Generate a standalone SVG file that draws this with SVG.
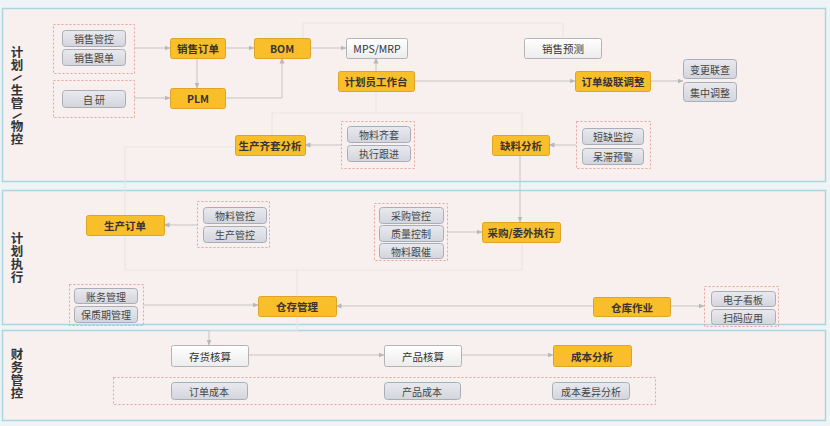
<svg xmlns="http://www.w3.org/2000/svg" width="830" height="426" viewBox="0 0 830 426">
<defs>
<linearGradient id="gg" x1="0" y1="0" x2="0" y2="1"><stop offset="0" stop-color="#e9eaef"/><stop offset="1" stop-color="#d3d5dc"/></linearGradient>
<linearGradient id="gw" x1="0" y1="0" x2="0" y2="1"><stop offset="0" stop-color="#ffffff"/><stop offset="1" stop-color="#ececec"/></linearGradient>
<marker id="ar" viewBox="0 0 6 6" refX="5.5" refY="3" markerWidth="6" markerHeight="6" orient="auto" markerUnits="userSpaceOnUse"><path d="M0,0.5 L6,3 L0,5.5 Z" fill="#b8b8b8"/></marker>
<style>
.p{fill:#f7f0ee;stroke:#a9d6e0;stroke-width:1.5}
.y{fill:#f9bf2b;stroke:#dea427;stroke-width:1}
.g{fill:url(#gg);stroke:#a9adb7;stroke-width:1}
.w{fill:url(#gw);stroke:#b4b4b4;stroke-width:1}
.d{fill:none;stroke:#e6a39b;stroke-width:1;stroke-dasharray:2 2}
.t{font-family:"Noto Sans CJK SC","Noto Sans",sans-serif;font-size:10px;fill:#454545;text-anchor:middle;dominant-baseline:central}
.ty{font-family:"Noto Sans CJK SC","Noto Sans",sans-serif;font-size:10.5px;font-weight:bold;fill:#3a3330;text-anchor:middle;dominant-baseline:central}
.tw{font-family:"Noto Sans CJK SC","Noto Sans",sans-serif;font-size:10.5px;fill:#333;text-anchor:middle;dominant-baseline:central}
.lb{font-family:"Noto Sans CJK SC","Noto Sans",sans-serif;font-size:12.5px;font-weight:bold;fill:#333;writing-mode:vertical-rl;letter-spacing:0.5px}
.sl{font-family:"Liberation Sans",sans-serif;font-size:13px;font-weight:bold;fill:#333;text-anchor:middle;dominant-baseline:central}
.c{fill:none;stroke:#c6c3c3;stroke-width:1}
.f{fill:none;stroke:#ece5e3;stroke-width:1.2}
</style>
</defs>
<rect x="0" y="0" width="830" height="426" fill="#eef4f6"/>
<g id="panels">
<rect class="p" x="2.5" y="8.5" width="823" height="173"/>
<rect class="p" x="2.5" y="190.5" width="823" height="134"/>
<rect class="p" x="2.5" y="330.5" width="823" height="90"/>
</g>
<g id="lane-labels">
<text class="lb" x="17" y="46">计划</text>
<text class="sl" transform="translate(17,78) rotate(50)">/</text>
<text class="lb" x="17" y="84">生管</text>
<text class="sl" transform="translate(17,116) rotate(50)">/</text>
<text class="lb" x="17" y="120">物控</text>
<text class="lb" x="17" y="232">计划执行</text>
<text class="lb" x="17" y="348">财务管控</text>
</g>
<g id="connectors">
<path class="f" d="M303,38 V23 H563 V38"/>
<path class="f" d="M376,91 V113 M272,135 V113 H522 V135"/>
<path class="f" d="M235,147 H125 V270 H522 V242 M297,270 V296"/>
<path class="f" d="M297,316 V331 H209"/>
<path class="c" d="M209,331 V345" marker-end="url(#ar)"/>
<path class="c" d="M520,155 V222" marker-end="url(#ar)"/>
<path class="c" d="M134,48 H170" marker-end="url(#ar)"/>
<path class="c" d="M197,58 V88" marker-end="url(#ar)"/>
<path class="c" d="M134,98 H170" marker-end="url(#ar)"/>
<path class="c" d="M225,48 H254" marker-end="url(#ar)"/>
<path class="c" d="M225,98 H282 V58" marker-end="url(#ar)"/>
<path class="c" d="M310,48 H346" marker-end="url(#ar)"/>
<path class="c" d="M376,71 V58" marker-end="url(#ar)"/>
<path class="c" d="M414,81 H575" marker-end="url(#ar)"/>
<path class="c" d="M650,81 H683" marker-end="url(#ar)"/>
<path class="c" d="M341,145 H305" marker-end="url(#ar)"/>
<path class="c" d="M576,145 H549" marker-end="url(#ar)"/>
<path class="c" d="M197,225 H164" marker-end="url(#ar)"/>
<path class="c" d="M447,232 H482" marker-end="url(#ar)"/>
<path class="c" d="M143,305 H258" marker-end="url(#ar)"/>
<path class="c" d="M593,306 H336" marker-end="url(#ar)"/>
<path class="c" d="M670,306 H704" marker-end="url(#ar)"/>
<path class="c" d="M248,355 H384" marker-end="url(#ar)"/>
<path class="c" d="M461,355 H553" marker-end="url(#ar)"/>
</g>
<g id="d1"><rect class="d" x="53.5" y="24.5" width="81" height="49"/></g>
<g id="n1"><rect class="g" x="62.5" y="30.5" width="63" height="16" rx="3"/><text class="t" x="94" y="38.5">销售管控</text></g>
<g id="n2"><rect class="g" x="62.5" y="49.5" width="63" height="16" rx="3"/><text class="t" x="94" y="57.5">销售跟单</text></g>
<g id="d2"><rect class="d" x="53.5" y="80.5" width="81" height="37"/></g>
<g id="n3"><rect class="g" x="62.5" y="90.5" width="63" height="17" rx="3"/><text class="t" x="94" y="99">自 研</text></g>
<g id="n4"><rect class="y" x="170.5" y="38.5" width="55" height="20" rx="2"/><text class="ty" x="198" y="48.5">销售订单</text></g>
<g id="n5"><rect class="y" x="170.5" y="88.5" width="55" height="20" rx="2"/><text class="ty" x="198" y="98.5">PLM</text></g>
<g id="n6"><rect class="y" x="254.5" y="38.5" width="56" height="20" rx="2"/><text class="ty" x="282" y="48.5">BOM</text></g>
<g id="n7"><rect class="w" x="346.5" y="38.5" width="61" height="20" rx="2"/><text class="tw" x="377" y="48.5">MPS/MRP</text></g>
<g id="n8"><rect class="y" x="338.5" y="71.5" width="76" height="20" rx="2"/><text class="ty" x="376" y="81.5">计划员工作台</text></g>
<g id="n9"><rect class="w" x="524.5" y="38.5" width="77" height="20" rx="2"/><text class="tw" x="563" y="48.5">销售预测</text></g>
<g id="n10"><rect class="y" x="575.5" y="71.5" width="75" height="20" rx="2"/><text class="ty" x="613" y="81.5">订单级联调整</text></g>
<g id="n11"><rect class="g" x="683.5" y="59.5" width="53" height="19" rx="3"/><text class="t" x="710" y="69">变更联查</text></g>
<g id="n12"><rect class="g" x="683.5" y="82.5" width="53" height="19" rx="3"/><text class="t" x="710" y="92">集中调整</text></g>
<g id="n13"><rect class="y" x="235.5" y="135.5" width="70" height="20" rx="2"/><text class="ty" x="270" y="145.5">生产齐套分析</text></g>
<g id="d3"><rect class="d" x="341.5" y="121.5" width="73" height="47"/></g>
<g id="n14"><rect class="g" x="347.5" y="126.5" width="63" height="16" rx="3"/><text class="t" x="379" y="134.5">物料齐套</text></g>
<g id="n15"><rect class="g" x="347.5" y="145.5" width="63" height="16" rx="3"/><text class="t" x="379" y="153.5">执行跟进</text></g>
<g id="n16"><rect class="y" x="492.5" y="135.5" width="57" height="20" rx="2"/><text class="ty" x="521" y="145.5">缺料分析</text></g>
<g id="d4"><rect class="d" x="576.5" y="121.5" width="74" height="47"/></g>
<g id="n17"><rect class="g" x="582.5" y="128.5" width="61" height="16" rx="3"/><text class="t" x="613" y="136.5">短缺监控</text></g>
<g id="n18"><rect class="g" x="582.5" y="148.5" width="61" height="16" rx="3"/><text class="t" x="613" y="156.5">呆滞预警</text></g>
<g id="n19"><rect class="y" x="86.5" y="215.5" width="78" height="20" rx="2"/><text class="ty" x="125" y="225.5">生产订单</text></g>
<g id="d5"><rect class="d" x="197.5" y="201.5" width="72" height="46"/></g>
<g id="n20"><rect class="g" x="203.5" y="207.5" width="63" height="16" rx="3"/><text class="t" x="235" y="215.5">物料管控</text></g>
<g id="n21"><rect class="g" x="203.5" y="226.5" width="63" height="16" rx="3"/><text class="t" x="235" y="234.5">生产管控</text></g>
<g id="d6"><rect class="d" x="374.5" y="203.5" width="73" height="57"/></g>
<g id="n22"><rect class="g" x="379.5" y="207.5" width="64" height="16" rx="3"/><text class="t" x="411" y="215.5">采购管控</text></g>
<g id="n23"><rect class="g" x="379.5" y="225.5" width="64" height="16" rx="3"/><text class="t" x="411" y="233.5">质量控制</text></g>
<g id="n24"><rect class="g" x="379.5" y="243.5" width="64" height="15" rx="3"/><text class="t" x="411" y="251">物料跟催</text></g>
<g id="n25"><rect class="y" x="482.5" y="222.5" width="78" height="20" rx="2"/><text class="ty" x="521" y="232.5">采购/委外执行</text></g>
<g id="d7"><rect class="d" x="69.5" y="284.5" width="74" height="41"/></g>
<g id="n26"><rect class="g" x="74.5" y="288.5" width="63" height="15" rx="3"/><text class="t" x="106" y="296">账务管理</text></g>
<g id="n27"><rect class="g" x="74.5" y="306.5" width="63" height="16" rx="3"/><text class="t" x="106" y="314.5">保质期管理</text></g>
<g id="n28"><rect class="y" x="258.5" y="296.5" width="78" height="20" rx="2"/><text class="ty" x="297" y="306.5">仓存管理</text></g>
<g id="n29"><rect class="y" x="593.5" y="297.5" width="77" height="19" rx="2"/><text class="ty" x="632" y="307">仓库作业</text></g>
<g id="d8"><rect class="d" x="704.5" y="286.5" width="74" height="40"/></g>
<g id="n30"><rect class="g" x="711.5" y="291.5" width="64" height="15" rx="3"/><text class="t" x="743" y="299">电子看板</text></g>
<g id="n31"><rect class="g" x="711.5" y="309.5" width="64" height="15" rx="3"/><text class="t" x="743" y="317">扫码应用</text></g>
<g id="n32"><rect class="w" x="171.5" y="345.5" width="77" height="21" rx="2"/><text class="tw" x="210" y="356">存货核算</text></g>
<g id="n33"><rect class="w" x="384.5" y="345.5" width="77" height="21" rx="2"/><text class="tw" x="423" y="356">产品核算</text></g>
<g id="n34"><rect class="y" x="553.5" y="345.5" width="78" height="21" rx="2"/><text class="ty" x="592" y="356">成本分析</text></g>
<g id="d9"><rect class="d" x="113.5" y="377.5" width="542" height="27"/></g>
<g id="n35"><rect class="g" x="171.5" y="382.5" width="76" height="17" rx="3"/><text class="t" x="209" y="391">订单成本</text></g>
<g id="n36"><rect class="g" x="384.5" y="382.5" width="76" height="17" rx="3"/><text class="t" x="422" y="391">产品成本</text></g>
<g id="n37"><rect class="g" x="552.5" y="382.5" width="77" height="17" rx="3"/><text class="t" x="591" y="391">成本差异分析</text></g>
</svg>
